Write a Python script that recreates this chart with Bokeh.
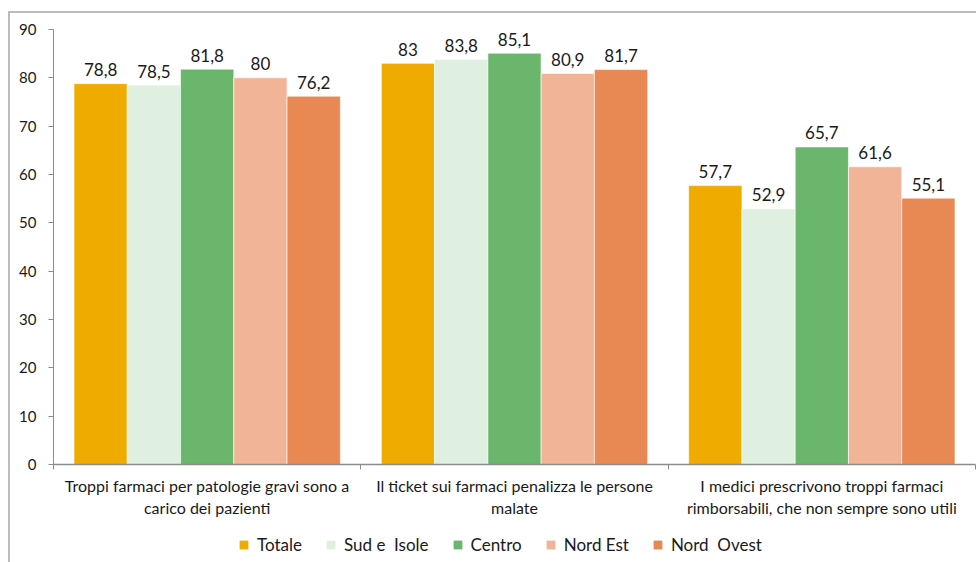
from bokeh.plotting import figure
from bokeh.layouts import column
from bokeh.models import ColumnDataSource, FixedTicker, Legend, LegendItem
from bokeh.embed import file_html
from bokeh.resources import INLINE
from bokeh.core.properties import value

# Survey statements (x categories), regions (series) and the share of agreement (%)
categories = [
    "Troppi farmaci per patologie gravi sono a\ncarico dei pazienti",
    "Il ticket sui farmaci penalizza le persone\nmalate",
    "I medici prescrivono troppi farmaci\nrimborsabili, che non sempre sono utili",
]
series_names = ["Totale", "Sud e  Isole", "Centro", "Nord Est", "Nord  Ovest"]
totale = [78.8, 83.0, 57.7]
sud_isole = [78.5, 83.8, 52.9]
centro = [81.8, 85.1, 65.7]
nord_est = [80.0, 80.9, 61.6]
nord_ovest = [76.2, 81.7, 55.1]
y_ticks = [0, 10, 20, 30, 40, 50, 60, 70, 80, 90]

series_values = [totale, sud_isole, centro, nord_est, nord_ovest]
colors = ["#F0AB00", "#DFF0E0", "#6BB66D", "#F1B497", "#E88853"]

FONT = "Lato"
TEXT = "#1a1a1a"
AXIS = "#8c8c8c"
BAR_W = 0.1733

p = figure(
    width=966, height=512,
    x_range=(0, 3), y_range=(0, 90),
    output_backend="svg", toolbar_location=None,
    min_border_left=43, min_border_top=16, min_border_right=1, min_border_bottom=61,
)
p.outline_line_color = None
p.xgrid.grid_line_color = None
p.ygrid.grid_line_color = None
p.background_fill_color = "white"
p.border_fill_color = "white"

# y axis
p.yaxis.ticker = FixedTicker(ticks=y_ticks)
p.yaxis.axis_line_color = AXIS
p.yaxis.major_tick_line_color = AXIS
p.yaxis.major_tick_in = 0
p.yaxis.major_tick_out = 5
p.yaxis.minor_tick_line_color = None
p.yaxis.major_label_text_font = FONT
p.yaxis.major_label_text_font_size = "15px"
p.yaxis.major_label_text_color = TEXT
p.yaxis.major_label_standoff = 12

# x axis: labels at category centres, ticks at category boundaries
centres = [i + 0.5 for i in range(len(categories))]
bounds = list(range(len(categories) + 1))
p.xaxis.ticker = FixedTicker(ticks=centres, minor_ticks=bounds)
p.xaxis.major_label_overrides = {c: lab for c, lab in zip(centres, categories)}
p.xaxis.axis_line_color = AXIS
p.xaxis.axis_line_width = 1.5
p.xaxis.major_tick_line_color = None
p.xaxis.minor_tick_line_color = AXIS
p.xaxis.minor_tick_in = 0
p.xaxis.minor_tick_out = 5
p.xaxis.major_label_text_font = FONT
p.xaxis.major_label_text_font_size = "16px"
p.xaxis.major_label_text_color = TEXT
p.xaxis.major_label_text_line_height = 1.2
p.xaxis.major_label_standoff = 5

# legend strip: a second canvas holding swatches for the same series
lg = figure(
    width=966, height=37, x_range=(0, 1), y_range=(0, 1),
    output_backend="svg", toolbar_location=None,
    min_border=0, x_axis_location=None, y_axis_location=None,
)
lg.outline_line_color = None
lg.xgrid.grid_line_color = None
lg.ygrid.grid_line_color = None
lg.background_fill_color = "white"
lg.border_fill_color = "white"

items = []
n = len(series_names)
for k, (name, vals, col) in enumerate(zip(series_names, series_values, colors)):
    off = (k - (n - 1) / 2) * BAR_W
    src = ColumnDataSource(dict(
        x=[c + off for c in centres],
        top=vals,
        label=[f"{v:g}".replace(".", ",") for v in vals],
    ))
    p.vbar(x="x", top="top", width=BAR_W, bottom=0, source=src,
           fill_color=col, line_color="white", line_width=0.6)
    p.text(x="x", y="top", text="label", source=src,
           text_font=value(FONT), text_font_size="17px", text_color=TEXT,
           text_align="center", text_baseline="alphabetic", y_offset=-14)
    # zero-height swatch renderer: only its legend entry shows
    swatch = lg.vbar(x=[0.5], top=[0], bottom=0, width=0.1, fill_color=col, line_color=None)
    items.append(LegendItem(label=name, renderers=[swatch]))

legend = Legend(items=items, orientation="horizontal", location=(185, 7))
legend.label_text_font = FONT
legend.label_text_font_size = "17px"
legend.label_text_color = TEXT
legend.glyph_width = 11
legend.glyph_height = 11
legend.label_standoff = 8
legend.spacing = 23
legend.padding = 0
legend.margin = 0
legend.border_line_color = None
legend.background_fill_alpha = 0
lg.add_layout(legend, "center")

page = column(
    p, lg, spacing=0, margin=(11, 0, 0, 8),
    styles={"border-top": "2px solid #BDBDBD", "border-left": "2px solid #BDBDBD"},
)

with open("out.html", "w") as f:
    f.write(file_html(page, INLINE))
